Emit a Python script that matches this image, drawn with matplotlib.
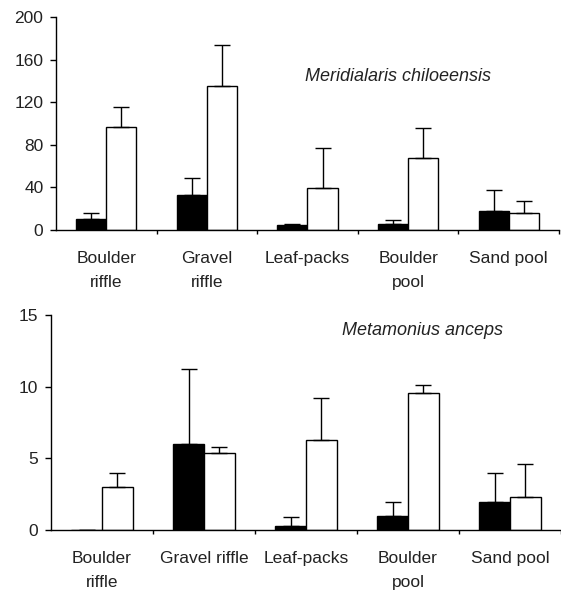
import matplotlib
matplotlib.use("Agg")
import matplotlib.pyplot as plt
import numpy as np

plt.rcParams['font.family'] = ['Liberation Sans', 'DejaVu Sans']

# habitat categories
top_labels = ["Boulder\nriffle", "Gravel\nriffle", "Leaf-packs", "Boulder\npool", "Sand pool"]
bottom_labels = ["Boulder\nriffle", "Gravel riffle", "Leaf-packs", "Boulder\npool", "Sand pool"]

# Meridialaris chiloeensis (black / white bars, upper error)
mc_black = [10.6, 33.0, 4.7, 5.6, 18.0]
mc_black_err = [5.0, 15.6, 0.9, 3.7, 19.7]
mc_white = [96.9, 134.9, 39.9, 67.3, 15.6]
mc_white_err = [18.3, 38.6, 37.4, 28.3, 11.2]

# Metamonius anceps
ma_black = [0.0, 6.0, 0.26, 1.0, 1.98]
ma_black_err = [0.0, 5.2, 0.64, 0.93, 1.97]
ma_white = [3.02, 5.35, 6.28, 9.58, 2.3]
ma_white_err = [0.93, 0.46, 2.91, 0.54, 2.3]


def draw_panel(ax, labels, black, black_err, white, white_err, ymax, ystep, title, tx, ty):
    x = np.arange(len(labels))
    w = 0.3
    kw = dict(width=w, edgecolor="black", linewidth=1.0)
    ax.bar(x - w / 2, black, color="black", **kw)
    ax.bar(x + w / 2, white, color="white", **kw)
    ekw = dict(fmt="none", ecolor="black", elinewidth=1.0, capsize=6, capthick=1.0)
    ax.errorbar(x - w / 2, black, yerr=[np.zeros(len(x)), black_err], **ekw)
    ax.errorbar(x + w / 2, white, yerr=[np.zeros(len(x)), white_err], **ekw)

    ax.set_xlim(-0.5, len(labels) - 0.5)
    ax.set_ylim(0, ymax)
    ax.set_yticks(np.arange(0, ymax + 1, ystep))
    ax.set_xticks(np.arange(len(labels)) + 0.5)
    ax.set_xticklabels([])
    ax.set_xticks(x, minor=True)
    ax.set_xticklabels(labels, minor=True, fontsize=12.5, linespacing=1.75, va="top",
                       color="#222222")
    ax.tick_params(axis="x", which="major", direction="out", length=3, width=1.0)
    ax.tick_params(axis="x", which="minor", length=0, pad=15)
    ax.tick_params(axis="y", direction="out", length=4, width=1.0, labelsize=12.5, pad=5,
                   labelcolor="#222222")
    for s in ["top", "right"]:
        ax.spines[s].set_visible(False)
    for s in ["left", "bottom"]:
        ax.spines[s].set_linewidth(1.0)
    ax.text(tx, ty, title, transform=ax.transAxes, ha="center", va="center",
            fontsize=13, style="italic", color="#222222")


fig = plt.figure(figsize=(5.61, 5.93), dpi=100)
ax1 = fig.add_axes([0.0998, 0.6121, 0.8966, 0.3592])
ax2 = fig.add_axes([0.0909, 0.1062, 0.9091, 0.3626])

draw_panel(ax1, top_labels, mc_black, mc_black_err, mc_white, mc_white_err,
           200, 40, "Meridialaris chiloeensis", 0.679, 0.723)
draw_panel(ax2, bottom_labels, ma_black, ma_black_err, ma_white, ma_white_err,
           15, 5, "Metamonius anceps", 0.729, 0.926)

fig.savefig("out.png", dpi=100)
